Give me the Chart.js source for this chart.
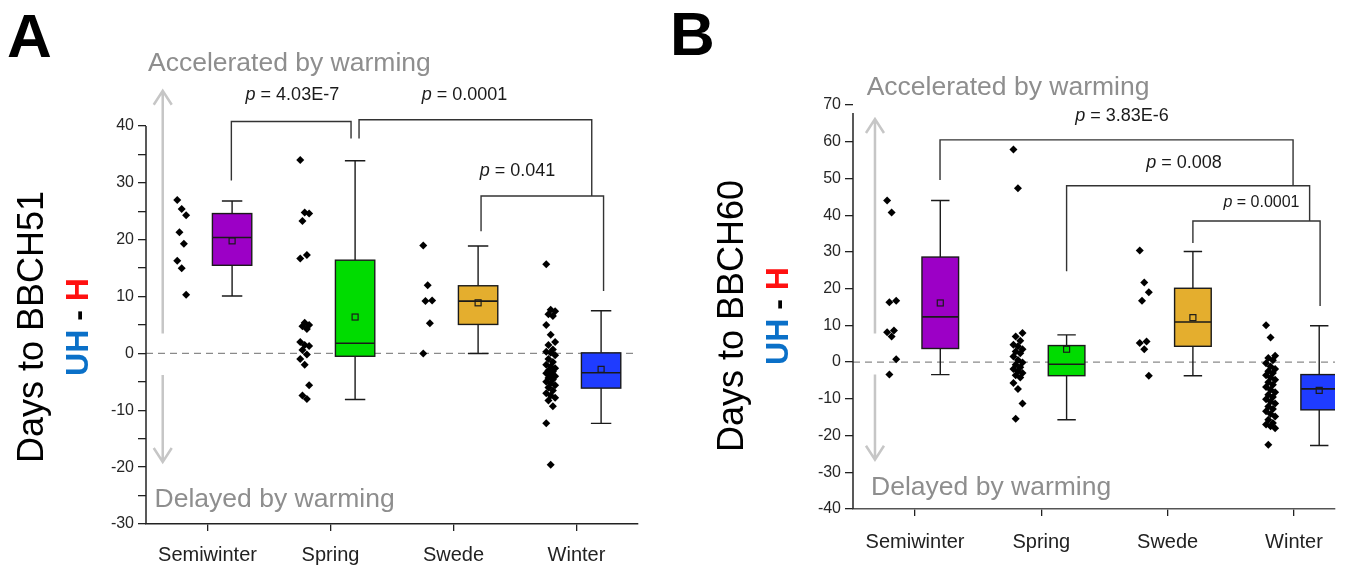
<!DOCTYPE html>
<html>
<head>
<meta charset="utf-8">
<title>UH - H days to BBCH</title>
<script src="https://cdn.jsdelivr.net/npm/chart.js@4.4.1/dist/chart.umd.min.js"></script>
<style>
  html, body { margin: 0; padding: 0; background: #fff; }
  body { width: 1349px; height: 569px; position: relative; overflow: hidden; }
  canvas { position: absolute; top: 0; }
  #chartA { left: 0; }
  #chartB { left: 665px; }
</style>
</head>
<body>
<canvas id="chartA" width="665" height="569"></canvas>
<canvas id="chartB" width="684" height="569"></canvas>
<script>
var categories = ['Semiwinter', 'Spring', 'Swede', 'Winter'];

// Panel A - days to BBCH51, UH minus H
var aSemiwinter = [27.0, 25.4, 24.3, 21.3, 19.3, 16.3, 15.0, 10.3];
var aSpring = [34.0, 24.8, 24.6, 23.3, 17.3, 16.7, 5.4, 5.0, 4.8, 4.3, 2.0, 1.5, 1.3, 0.6, -0.2, -1.0, -2.0, -5.6, -7.4, -8.0];
var aSwede = [19.0, 12.0, 9.3, 9.2, 5.3, 0.0];
var aWinter = [15.7, 7.7, 7.4, 6.9, 6.6, 5.0, 3.3, 2.0, 1.5, 0.7, 0.3, 0.1, -0.3, -1.0, -1.5, -2.0, -2.3, -2.6, -3.0, -3.2,
  -3.5, -3.8, -4.0, -4.3, -4.6, -5.0, -5.3, -5.6, -6.0, -6.5, -7.0, -7.4, -7.8, -8.3, -9.3, -12.3, -19.6];
var aMin = [10.1, -8.1, 0.0, -12.3];
var aQ1 = [15.5, -0.5, 5.1, -6.1];
var aMedian = [20.4, 1.8, 9.2, -3.4];
var aQ3 = [24.6, 16.4, 11.9, 0.1];
var aMax = [26.8, 33.9, 18.9, 7.5];
var aMean = [19.8, 6.4, 8.9, -2.8];
var aPValues = ['4.03E-7', '0.0001', '0.041'];
var aTicks = [-30, -20, -10, 0, 10, 20, 30, 40];

// Panel B - days to BBCH60, UH minus H
var bSemiwinter = [44.0, 40.7, 16.7, 16.3, 8.6, 8.1, 7.0, 0.8, -3.4];
var bSpring = [57.9, 47.3, 7.9, 7.0, 5.8, 4.7, 4.3, 3.5, 2.9, 2.4, 1.5, 0.6, -0.1, -0.7, -1.4, -1.9, -2.5, -3.0, -3.6, -4.2,
  -5.7, -7.3, -11.3, -15.4];
var bSwede = [30.4, 21.7, 19.0, 16.7, 5.6, 5.2, 3.5, -3.7];
var bWinter = [10.0, 6.7, 1.7, 1.1, 0.5, -0.3, -1.2, -1.9, -2.5, -3.0, -3.6, -4.2, -4.8, -5.5, -6.2, -6.8, -7.5, -8.2, -8.9,
  -9.5, -10.1, -10.7, -11.3, -12.1, -12.8, -13.4, -14.1, -14.8, -15.7, -16.6, -17.0, -17.5, -18.0, -22.5];
var bMin = [-3.4, -15.7, -3.7, -22.7];
var bQ1 = [3.7, -3.7, 4.3, -13.0];
var bMedian = [12.3, -0.6, 10.9, -7.3];
var bQ3 = [28.6, 4.5, 20.1, -3.4];
var bMax = [44.0, 7.4, 30.1, 9.9];
var bMean = [16.1, 3.5, 12.1, -7.7];
var bPValues = ['3.83E-6', '0.008', '0.0001'];
var bTicks = [-40, -30, -20, -10, 0, 10, 20, 30, 40, 50, 60, 70];

var boxColors = ['#9c00c6', '#00dc00', '#e4ae2e', '#1f3cff'];
var FONT = '"Liberation Sans", Arial, sans-serif';
Chart.defaults.font.family = FONT;

// layout of each panel (positions in axis units)
var panelA = {
  id: 'chartA', letter: 'A', letterX: 7, letterY: 57, title: 'Days to BBCH51',
  titleX: 43, subX: 88, titleY: 327,
  raw: [aSemiwinter, aSpring, aSwede, aWinter],
  min: aMin, q1: aQ1, median: aMedian, q3: aQ3, max: aMax, mean: aMean,
  ticks: aTicks, yMin: -30, yMax: 40, xMin: 0.5, xMax: 4.5,
  pad: { left: 0, top: 126, right: 27, bottom: 0 }, yWidth: 146, xHeight: 45, labelPad: 12,
  boxShift: 0.2, boxHalf: 0.16, capHalf: 0.083, dotShift: -0.21,
  axisTop: 40, xAxisColor: '#222',
  arrowX: 0.636, arrowUp: [3.5, 46.2], arrowDown: [-3.8, -19.1],
  upText: [0.516, 51.0], downText: [0.57, -25.8],
  brackets: [
    { x1: 1.194, x2: 2.167, top: 40.8, left: 30.4, right: 37.8 },
    { x1: 2.232, x2: 4.124, top: 41.1, left: 37.8, right: 27.7 },
    { x1: 3.224, x2: 4.22, top: 27.7, left: 21.5, right: 11.0 }
  ],
  pText: aPValues, pPos: [[1.69, 45.4, 18], [3.09, 45.4, 18], [3.52, 32.0, 18]]
};

var panelB = {
  id: 'chartB', letter: 'B', letterX: 5, letterY: 55, title: 'Days to BBCH60',
  titleX: 78, subX: 123, titleY: 316,
  raw: [bSemiwinter, bSpring, bSwede, bWinter],
  min: bMin, q1: bQ1, median: bMedian, q3: bQ3, max: bMax, mean: bMean,
  ticks: bTicks, yMin: -40, yMax: 70, xMin: 0.509, xMax: 4.325,
  pad: { left: 0, top: 105, right: 14, bottom: 0 }, yWidth: 188, xHeight: 60, labelPad: 14,
  boxShift: 0.2, boxHalf: 0.145, capHalf: 0.073, dotShift: -0.185,
  axisTop: 67.8, xAxisColor: '#555',
  arrowX: 0.683, arrowUp: [7.8, 66.2], arrowDown: [-3.4, -26.6],
  upText: [0.617, 74.6], downText: [0.652, -34.3],
  brackets: [
    { x1: 1.198, x2: 3.993, top: 60.5, left: 49.6, right: 48.0 },
    { x1: 2.2, x2: 4.124, top: 48.0, left: 24.7, right: 38.4 },
    { x1: 3.2, x2: 4.207, top: 38.4, left: 32.4, right: 15.3 }
  ],
  pText: bPValues, pPos: [[2.639, 66.9, 18], [3.13, 54.3, 18], [3.743, 43.5, 16]]
};

function jitter(i) {
  return (((i * 7) % 5) - 2) * 0.018;
}

function drawArrow(ctx, x, y0, y1) {
  var dir = y1 < y0 ? 1 : -1;
  ctx.beginPath();
  ctx.moveTo(x, y0);
  ctx.lineTo(x, y1);
  ctx.moveTo(x - 9, y1 + dir * 14);
  ctx.lineTo(x, y1);
  ctx.lineTo(x + 9, y1 + dir * 14);
  ctx.stroke();
}

function makePanel(p) {
  var points = [];
  for (var c = 0; c < p.raw.length; c++) {
    for (var i = 0; i < p.raw[c].length; i++) {
      points.push({ x: c + 1 + p.dotShift + jitter(i), y: p.raw[c][i] });
    }
  }

  var decor = {
    id: 'decor' + p.letter,
    beforeDatasetsDraw: function (chart) {
      var ctx = chart.ctx, xs = chart.scales.x, ys = chart.scales.y, ca = chart.chartArea;
      ctx.save();
      // zero line
      ctx.strokeStyle = '#8a8a8a';
      ctx.lineWidth = 1.3;
      ctx.setLineDash([7, 5]);
      ctx.beginPath();
      ctx.moveTo(ca.left, ys.getPixelForValue(0));
      ctx.lineTo(ca.right, ys.getPixelForValue(0));
      ctx.stroke();
      ctx.setLineDash([]);

      // warming arrows
      ctx.strokeStyle = '#c6c6c6';
      ctx.lineWidth = 2.5;
      var ax = xs.getPixelForValue(p.arrowX);
      drawArrow(ctx, ax, ys.getPixelForValue(p.arrowUp[0]), ys.getPixelForValue(p.arrowUp[1]));
      drawArrow(ctx, ax, ys.getPixelForValue(p.arrowDown[0]), ys.getPixelForValue(p.arrowDown[1]));

      // boxes
      ctx.beginPath();
      ctx.rect(ca.left, 0, ca.right - ca.left, chart.height);
      ctx.clip();
      for (var c = 0; c < categories.length; c++) {
        var cx = xs.getPixelForValue(c + 1 + p.boxShift);
        var l = xs.getPixelForValue(c + 1 + p.boxShift - p.boxHalf);
        var r = xs.getPixelForValue(c + 1 + p.boxShift + p.boxHalf);
        var cl = xs.getPixelForValue(c + 1 + p.boxShift - p.capHalf);
        var cr = xs.getPixelForValue(c + 1 + p.boxShift + p.capHalf);
        var yMin = ys.getPixelForValue(p.min[c]), yQ1 = ys.getPixelForValue(p.q1[c]);
        var yMed = ys.getPixelForValue(p.median[c]), yQ3 = ys.getPixelForValue(p.q3[c]);
        var yMax = ys.getPixelForValue(p.max[c]), yMean = ys.getPixelForValue(p.mean[c]);

        ctx.strokeStyle = '#1a1a1a';
        ctx.lineWidth = 1.4;
        ctx.beginPath();
        ctx.moveTo(cx, yMax); ctx.lineTo(cx, yQ3);
        ctx.moveTo(cx, yQ1); ctx.lineTo(cx, yMin);
        ctx.moveTo(cl, yMax); ctx.lineTo(cr, yMax);
        ctx.moveTo(cl, yMin); ctx.lineTo(cr, yMin);
        ctx.stroke();

        ctx.fillStyle = boxColors[c];
        ctx.fillRect(l, yQ3, r - l, yQ1 - yQ3);
        ctx.strokeRect(l, yQ3, r - l, yQ1 - yQ3);
        ctx.lineWidth = 1.6;
        ctx.beginPath();
        ctx.moveTo(l, yMed); ctx.lineTo(r, yMed);
        ctx.stroke();

        ctx.lineWidth = 1.2;
        ctx.strokeRect(cx - 3, yMean - 3, 6, 6);
      }
      ctx.restore();
    },
    afterDraw: function (chart) {
      var ctx = chart.ctx, xs = chart.scales.x, ys = chart.scales.y, ca = chart.chartArea;
      ctx.save();

      // y axis line (panel B stops short of 70)
      ctx.strokeStyle = '#222';
      ctx.lineWidth = 1.5;
      ctx.beginPath();
      ctx.moveTo(ca.left, ys.getPixelForValue(p.axisTop));
      ctx.lineTo(ca.left, ca.bottom);
      ctx.stroke();

      // significance brackets
      ctx.strokeStyle = '#333';
      ctx.lineWidth = 1.4;
      p.brackets.forEach(function (b) {
        var x1 = xs.getPixelForValue(b.x1), x2 = xs.getPixelForValue(b.x2);
        ctx.beginPath();
        ctx.moveTo(x1, ys.getPixelForValue(b.left));
        ctx.lineTo(x1, ys.getPixelForValue(b.top));
        ctx.lineTo(x2, ys.getPixelForValue(b.top));
        ctx.lineTo(x2, ys.getPixelForValue(b.right));
        ctx.stroke();
      });

      // p values
      ctx.fillStyle = '#1a1a1a';
      ctx.textBaseline = 'middle';
      ctx.textAlign = 'left';
      p.pText.forEach(function (t, k) {
        var size = p.pPos[k][2];
        var rest = ' = ' + t;
        ctx.font = 'italic ' + size + 'px ' + FONT;
        var w1 = ctx.measureText('p').width;
        ctx.font = size + 'px ' + FONT;
        var w2 = ctx.measureText(rest).width;
        var x = xs.getPixelForValue(p.pPos[k][0]) - (w1 + w2) / 2;
        var y = ys.getPixelForValue(p.pPos[k][1]);
        ctx.font = 'italic ' + size + 'px ' + FONT;
        ctx.fillText('p', x, y);
        ctx.font = size + 'px ' + FONT;
        ctx.fillText(rest, x + w1, y);
      });

      // warming labels
      ctx.fillStyle = '#8e8e8e';
      ctx.font = '26.5px ' + FONT;
      ctx.fillText('Accelerated by warming', xs.getPixelForValue(p.upText[0]), ys.getPixelForValue(p.upText[1]));
      ctx.fillText('Delayed by warming', xs.getPixelForValue(p.downText[0]), ys.getPixelForValue(p.downText[1]));

      // panel letter
      ctx.textBaseline = 'alphabetic';
      ctx.fillStyle = '#000';
      ctx.font = 'bold 62px ' + FONT;
      ctx.fillText(p.letter, p.letterX, p.letterY);

      // y axis title, two lines rotated
      ctx.translate(p.titleX, p.titleY);
      ctx.rotate(-Math.PI / 2);
      ctx.textAlign = 'center';
      ctx.font = '36px ' + FONT;
      ctx.fillText(p.title, 0, 0);
      var parts = [['UH', '#0a70c8'], [' - ', '#000'], ['H', '#ff1010']];
      ctx.font = 'bold 32px ' + FONT;
      var total = 0;
      parts.forEach(function (s) { total += ctx.measureText(s[0]).width; });
      var cur = -total / 2;
      ctx.textAlign = 'left';
      parts.forEach(function (s) {
        ctx.fillStyle = s[1];
        ctx.fillText(s[0], cur, p.subX - p.titleX);
        cur += ctx.measureText(s[0]).width;
      });
      ctx.restore();
    }
  };

  return new Chart(document.getElementById(p.id), {
    type: 'scatter',
    data: {
      datasets: [{
        data: points,
        pointStyle: 'rectRot',
        pointRadius: 4,
        pointHoverRadius: 4,
        backgroundColor: '#000',
        borderColor: '#000',
        borderWidth: 0
      }]
    },
    options: {
      responsive: false,
      animation: false,
      events: [],
      layout: { padding: p.pad },
      plugins: { legend: { display: false }, tooltip: { enabled: false } },
      scales: {
        x: {
          type: 'linear',
          min: p.xMin,
          max: p.xMax,
          afterBuildTicks: function (s) {
            s.ticks = categories.map(function (_, i) { return { value: i + 1 }; });
          },
          afterFit: function (s) { s.height = p.xHeight; },
          ticks: {
            autoSkip: false,
            maxRotation: 0,
            padding: p.labelPad,
            color: '#222',
            font: { size: 20 },
            callback: function (v) { return categories[v - 1]; }
          },
          grid: { drawOnChartArea: false, tickLength: 7, color: '#222', lineWidth: 1.3 },
          border: { display: true, color: p.xAxisColor, width: 1.5 }
        },
        y: {
          min: p.yMin,
          max: p.yMax,
          afterBuildTicks: function (s) {
            var t = [];
            for (var v = p.yMin; v <= p.yMax; v += 5) t.push({ value: v });
            s.ticks = t;
          },
          afterFit: function (s) { s.width = p.yWidth; },
          ticks: {
            padding: 4,
            color: '#262626',
            font: { size: 16 },
            callback: function (v) { return p.ticks.indexOf(v) >= 0 ? String(v) : ''; }
          },
          grid: { drawOnChartArea: false, tickLength: 8, color: '#222', lineWidth: 1.3 },
          border: { display: false }
        }
      }
    },
    plugins: [decor]
  });
}

makePanel(panelA);
makePanel(panelB);
</script>
</body>
</html>
